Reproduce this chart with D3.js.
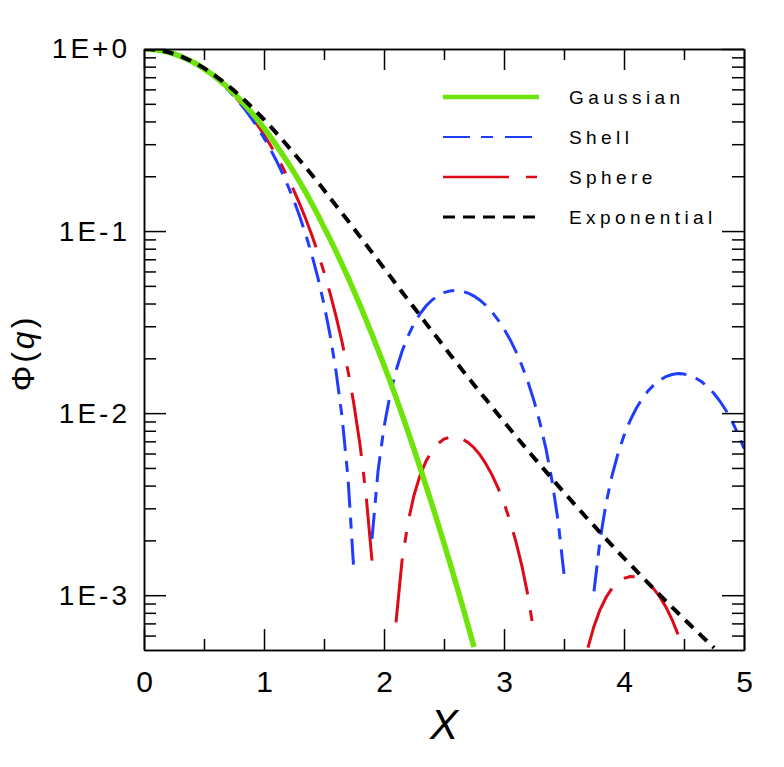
<!DOCTYPE html>
<html lang="en">
<head>
  <meta charset="UTF-8">
  <title>Form factors</title>
  <script src="https://d3js.org/d3.v7.min.js"></script>
  <style>
    body { margin: 0; background: #fff; }
    svg { display: block; font-family: "Liberation Sans", Arial, sans-serif; }
    .axis path, .axis line { stroke: #000; stroke-width: 1.5px; }
    .axis text { fill: #000; }
  </style>
</head>
<body>
  <svg id="chart" width="784" height="767"></svg>

  <script>
    // sample positions (X) shared by all curves
    const xs = [0,0.05,0.1,0.15,0.2,0.25,0.3,0.35,0.4,0.45,0.5,0.55,0.6,0.65,0.7,0.75,0.8,0.85,0.9,0.95,
      1,1.05,1.1,1.15,1.2,1.25,1.3,1.35,1.4,1.45,1.5,1.55,1.6,1.65,1.7,1.75,1.8,1.85,1.9,1.95,
      2,2.05,2.1,2.15,2.2,2.25,2.3,2.35,2.4,2.45,2.5,2.55,2.6,2.65,2.7,2.75,2.8,2.85,2.9,2.95,
      3,3.05,3.1,3.15,3.2,3.25,3.3,3.35,3.4,3.45,3.5,3.55,3.6,3.65,3.7,3.75,3.8,3.85,3.9,3.95,
      4,4.05,4.1,4.15,4.2,4.25,4.3,4.35,4.4,4.45,4.5,4.55,4.6,4.65,4.7,4.75,4.8,4.85,4.9,4.95,5];

    const gaussian = [1,0.9975,0.990,0.978,0.961,0.939,0.914,0.885,0.852,0.817,0.779,0.739,0.698,0.655,0.613,0.570,
      0.527,0.486,0.445,0.406,0.368,0.332,0.298,0.266,0.237,0.210,0.185,0.162,0.141,0.122,0.105,0.0905,0.0773,
      0.0657,0.0556,0.0468,0.0392,0.0326,0.0270,0.0223,0.0183,0.0150,0.0122,0.00983,0.00791,0.00633,0.00504,
      0.00399,0.00315,0.00247,0.00193,0.00150,0.00116,0.000891,0.000682,0.000519,0.000394];

    const shell = [1,0.9975,0.990,0.9777,0.9606,0.9390,0.9132,0.8834,0.8499,0.8132,0.7737,0.7318,0.6880,0.6428,
      0.5966,0.5499,0.5032,0.4569,0.4115,0.3673,0.3247,0.2842,0.2458,0.2099,0.1768,0.1465,0.1191,0.0947,0.0734,
      0.0551,0.03965,0.02700,0.01705,0.00959,0.00442,0.00132,0.00006,0.00038,0.00204,0.00479,0.00837,0.01255,
      0.01711,0.02181,0.02648,0.03096,0.03509,0.03873,0.04180,0.04419,0.04591,0.04692,0.04719,0.04676,0.04567,
      0.04396,0.04172,0.03901,0.03593,0.03257,0.02903,0.02539,0.02175,0.01820,0.01482,0.01168,0.00884,0.00636,
      0.00426,0.00258,0.00131,0.00047,0.00006,0.00004,0.00038,0.00105,0.00200,0.00318,0.00453,0.00600,0.00753,
      0.00907,0.01057,0.01197,0.01324,0.01432,0.01521,0.01588,0.01630,0.01648,0.01640,0.01609,0.01555,0.01481,
      0.01388,0.01281,0.01162,0.01034,0.00902,0.00770,0.00639];

    const sphere = [1,0.9975,0.990,0.9777,0.9607,0.9391,0.9134,0.8837,0.8505,0.8142,0.7752,0.7339,0.6909,0.6466,
      0.6014,0.5559,0.5105,0.4656,0.4217,0.3791,0.3381,0.2991,0.2622,0.2277,0.1957,0.1663,0.1396,0.1157,0.0944,
      0.0757,0.0595,0.0457,0.0341,0.02466,0.01705,0.01112,0.00671,0.00358,0.00155,0.00042,0.00001,0.00016,
      0.00071,0.00154,0.00251,0.00354,0.00454,0.00544,0.00621,0.00680,0.00720,0.00740,0.00741,0.00724,0.00691,
      0.00646,0.00590,0.00526,0.00458,0.00389,0.00321,0.00256,0.00196,0.00144,0.00099,0.00062,0.00035,0.00015,
      0.00004,0.0000003,0.00003,0.00011,0.00022,0.00036,0.000515,0.000676,0.000831,0.000971,0.001089,0.001179,
      0.001238,0.001266,0.001261,0.001226,0.001164,0.001079,0.000975,0.000859,0.000735,0.000609,0.000487,
      0.00037,0.00027,0.00018,0.000106,0.00005,0.000016,0.000001,0.0000005,0.000002,0.0000047];

    const exponential = [1,0.9975,0.990,0.978,0.961,0.940,0.915,0.886,0.855,0.821,0.785,0.747,0.708,0.669,0.630,
      0.591,0.552,0.515,0.478,0.443,0.410,0.378,0.347,0.319,0.292,0.267,0.244,0.223,0.203,0.185,0.168,0.152,
      0.138,0.125,0.114,0.103,0.0932,0.0843,0.0763,0.0691,0.0625,0.0566,0.0512,0.0463,0.0419,0.0380,0.0344,
      0.0311,0.0282,0.0256,0.0232,0.0210,0.0191,0.0173,0.0158,0.0143,0.0130,0.0119,0.0108,0.00983,0.00896,
      0.00818,0.00746,0.00681,0.00623,0.00569,0.00521,0.00477,0.00437,0.00400,0.00367,0.00337,0.00309,0.00284,
      0.00261,0.00241,0.00221,0.00204,0.00188,0.00173,0.00160,0.00148,0.00137,0.00126,0.00117,0.00108,0.00100,
      0.000927,0.000860,0.000798,0.000740,0.000688,0.000639,0.000594,0.000553,0.000514,0.000479];

    const xMajorTicks = [0, 1, 2, 3, 4, 5];
    const xMinorTicks = [0.5, 1.5, 2.5, 3.5, 4.5];
    const yMajorTicks = [1, 0.1, 0.01, 0.001];
    const yMajorLabels = ["1E+0", "1E-1", "1E-2", "1E-3"];
    const yMinorTicks = [0.9,0.8,0.7,0.6,0.5,0.4,0.3,0.2, 0.09,0.08,0.07,0.06,0.05,0.04,0.03,0.02,
      0.009,0.008,0.007,0.006,0.005,0.004,0.003,0.002, 0.0009,0.0008,0.0007,0.0006];

    const series = [
      { name: "Gaussian",    values: gaussian,    color: "#6ee40a", width: 5.5, dash: null,          legendWidth: 4.5, legendDash: null },
      { name: "Shell",       values: shell,       color: "#1f3cff", width: 3,   dash: "26 10 11 10", legendWidth: 2.2, legendDash: "27 11 12 12" },
      { name: "Sphere",      values: sphere,      color: "#de0a18", width: 3,   dash: "64 16 11 16", legendWidth: 2.6, legendDash: "66 17 11 17" },
      { name: "Exponential", values: exponential, color: "#000000", width: 4,   dash: "11 8",        legendWidth: 3,   legendDash: "12 8" }
    ];

    const yMin = 5e-4;
    const margin = { left: 144, top: 49, right: 40, bottom: 117 };
    const width = 784, height = 767;
    const innerW = width - margin.left - margin.right;   // 600
    const innerH = height - margin.top - margin.bottom;  // 601

    const svg = d3.select("#chart");
    const g = svg.append("g").attr("transform", `translate(${margin.left},${margin.top})`);

    const x = d3.scaleLinear().domain([0, 5]).range([0, innerW]);
    const y = d3.scaleLog().domain([yMin, 1]).range([innerH, 0]);

    svg.append("defs").append("clipPath").attr("id", "plotClip")
      .append("rect").attr("width", innerW).attr("height", innerH);

    // curves (points below the axis minimum are not drawn)
    const line = d3.line()
      .defined(d => d[1] >= yMin)
      .x(d => x(d[0]))
      .y(d => y(d[1]));

    const plot = g.append("g").attr("clip-path", "url(#plotClip)");
    // draw sphere/shell first so gaussian and exponential sit on top like the reference
    [series[2], series[1], series[0], series[3]].forEach(s => {
      const pts = s.values.map((v, i) => [xs[i], v]);
      plot.append("path")
        .attr("d", line(pts))
        .attr("fill", "none")
        .attr("stroke", s.color)
        .attr("stroke-width", s.width)
        .attr("stroke-dasharray", s.dash);
    });

    // axes: inward ticks on all four sides
    const fmtX = d3.format("d");
    g.append("g").attr("class", "axis").attr("transform", `translate(0,${innerH})`)
      .call(d3.axisBottom(x).tickValues(xMajorTicks).tickSize(-21).tickSizeOuter(0).tickPadding(21).tickFormat(fmtX))
      .call(a => a.selectAll("text").attr("font-size", 30));
    g.append("g").attr("class", "axis").attr("transform", `translate(0,${innerH})`)
      .call(d3.axisBottom(x).tickValues(xMinorTicks).tickSize(-11).tickSizeOuter(0).tickFormat(""));
    g.append("g").attr("class", "axis")
      .call(d3.axisTop(x).tickValues(xMajorTicks).tickSize(-21).tickSizeOuter(0).tickFormat(""));
    g.append("g").attr("class", "axis")
      .call(d3.axisTop(x).tickValues(xMinorTicks).tickSize(-11).tickSizeOuter(0).tickFormat(""));

    g.append("g").attr("class", "axis")
      .call(d3.axisLeft(y).tickValues(yMajorTicks).tickSize(-22).tickSizeOuter(0).tickPadding(14)
        .tickFormat((d, i) => yMajorLabels[i]))
      .call(a => a.selectAll("text").attr("font-size", 28).attr("letter-spacing", 3));
    g.append("g").attr("class", "axis")
      .call(d3.axisLeft(y).tickValues(yMinorTicks).tickSize(-12).tickSizeOuter(0).tickFormat(""));
    g.append("g").attr("class", "axis").attr("transform", `translate(${innerW},0)`)
      .call(d3.axisRight(y).tickValues(yMajorTicks).tickSize(-22).tickSizeOuter(0).tickFormat(""));
    g.append("g").attr("class", "axis").attr("transform", `translate(${innerW},0)`)
      .call(d3.axisRight(y).tickValues(yMinorTicks).tickSize(-12).tickSizeOuter(0).tickFormat(""));

    // axis titles
    svg.append("text")
      .attr("x", margin.left + x(2.5)).attr("y", 739)
      .attr("text-anchor", "middle")
      .attr("font-size", 42).attr("font-style", "italic")
      .text("X");

    const yTitle = svg.append("text")
      .attr("transform", "translate(34,353) rotate(-90)")
      .attr("text-anchor", "middle")
      .attr("font-size", 32).attr("letter-spacing", 3);
    yTitle.append("tspan").text("\u03A6(");
    yTitle.append("tspan").attr("font-style", "italic").text("q");
    yTitle.append("tspan").text(")");

    // legend
    const legend = svg.append("g").attr("transform", "translate(443,97)");
    series.forEach((s, i) => {
      const row = legend.append("g").attr("transform", `translate(0,${i * 40})`);
      row.append("line")
        .attr("x1", 0).attr("x2", 96).attr("y1", 0).attr("y2", 0)
        .attr("stroke", s.color)
        .attr("stroke-width", s.legendWidth)
        .attr("stroke-dasharray", s.legendDash);
      row.append("text")
        .attr("x", 126).attr("y", 0).attr("dy", "0.36em")
        .attr("font-size", 19).attr("letter-spacing", 4.4)
        .text(s.name);
    });
  </script>
</body>
</html>
